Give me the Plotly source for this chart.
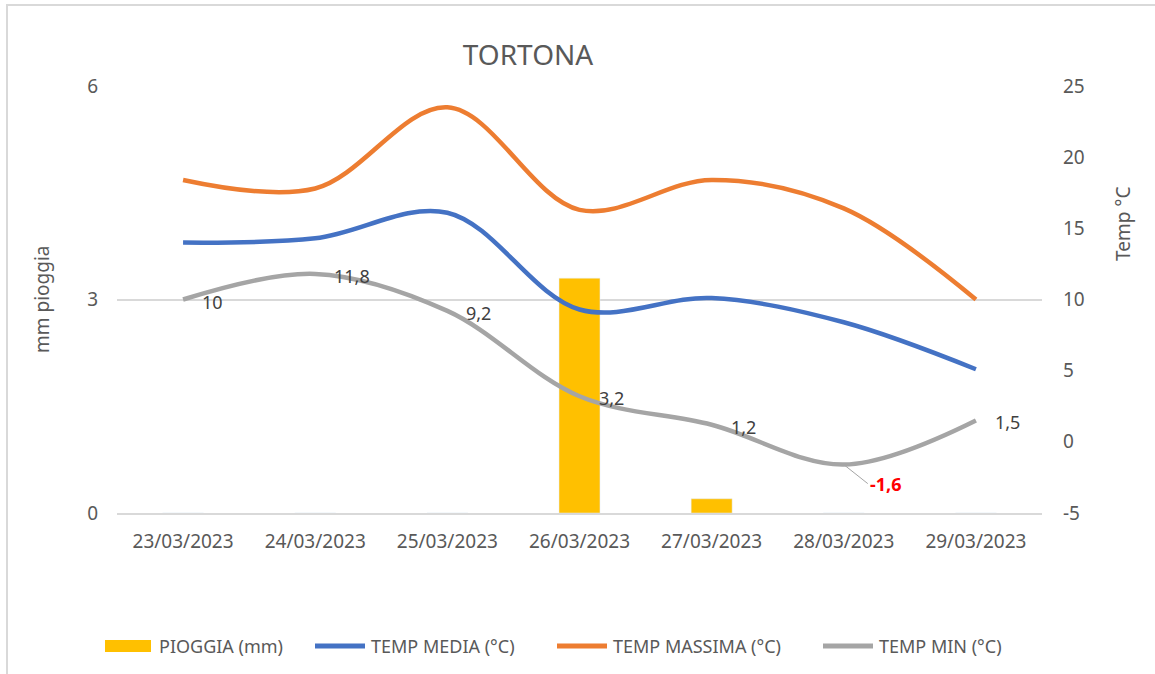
import plotly.graph_objects as go

dates = ["23/03/2023", "24/03/2023", "25/03/2023", "26/03/2023",
         "27/03/2023", "28/03/2023", "29/03/2023"]
pioggia = [0, 0, 0, 3.3, 0.2, 0, 0]
temp_media = [14.0, 14.3, 16.1, 9.3, 10.1, 8.4, 5.1]
temp_max = [18.4, 17.8, 23.5, 16.3, 18.4, 16.4, 10.0]
temp_min = [10, 11.8, 9.2, 3.2, 1.2, -1.6, 1.5]
min_labels = ["10", "11,8", "9,2", "3,2", "1,2", "-1,6", "1,5"]
y_left_ticks = [0, 3, 6]
y_right_ticks = [-5, 0, 5, 10, 15, 20, 25]
y_right_ticktext = ["-5", "0", "5", "10", "15", "20", "25"]

series_names = ["PIOGGIA (mm)", "TEMP MEDIA (°C)", "TEMP MASSIMA (°C)", "TEMP MIN (°C)"]
series_colors = ["#FFC000", "#4472C4", "#ED7D31", "#A5A5A5"]

FONT = "Noto Sans"
GREY_TXT = "#595959"

# pixel geometry helpers (plot area: x 117..1042, y 86..513)
L, R, T, B = 117, 1042, 86, 513
def px(x):
    return (x - L) / (R - L)
def py(y):
    return (B - y) / (B - T)

fig = go.Figure()
fig.add_trace(go.Bar(x=dates, y=pioggia, name=series_names[0],
                     marker=dict(color=series_colors[0]), width=0.31, yaxis="y",
                     showlegend=False))
for name, vals, col in [(series_names[1], temp_media, series_colors[1]),
                        (series_names[2], temp_max, series_colors[2]),
                        (series_names[3], temp_min, series_colors[3])]:
    fig.add_trace(go.Scatter(x=dates, y=vals, name=name, mode="lines",
                             line=dict(color=col, width=4.5, shape="spline", smoothing=1),
                             yaxis="y2", showlegend=False))

# data labels for TEMP MIN
for d, v, lab in zip(dates, temp_min, min_labels):
    if v < 0:
        fig.add_annotation(x=d, y=v, xref="x", yref="y2", text="<b>" + lab + "</b>",
                           showarrow=True, arrowhead=0, arrowwidth=1,
                           arrowcolor="#A5A5A5", ax=24, ay=19, xanchor="left",
                           font=dict(family=FONT, size=18, color="#FF0000"))
    else:
        fig.add_annotation(x=d, y=v, xref="x", yref="y2", text=lab, showarrow=False,
                           xanchor="left", yanchor="middle", xshift=17, yshift=-2,
                           font=dict(family=FONT, size=18, color="#404040"))

# axis titles
fig.add_annotation(text="mm pioggia", xref="paper", yref="paper",
                   x=px(42), y=py(300), xanchor="center", yanchor="middle",
                   showarrow=False, textangle=-90,
                   font=dict(family=FONT, size=19, color=GREY_TXT))
fig.add_annotation(text="Temp °C", xref="paper", yref="paper",
                   x=px(1123), y=py(224), xanchor="center", yanchor="middle",
                   showarrow=False, textangle=-90,
                   font=dict(family=FONT, size=19, color=GREY_TXT))

# chart frame (top and left edges visible)
fig.add_shape(type="line", xref="paper", yref="paper",
              x0=px(6), x1=px(1160), y0=py(5), y1=py(5),
              line=dict(color="#D9D9D9", width=2), layer="below")
fig.add_shape(type="line", xref="paper", yref="paper",
              x0=px(7), x1=px(7), y0=py(4), y1=py(680),
              line=dict(color="#D9D9D9", width=2), layer="below")

# custom legend
leg_x = [105, 315, 557, 823]
leg_y = 646
for i, (name, col, x0) in enumerate(zip(series_names, series_colors, leg_x)):
    if i == 0:
        fig.add_shape(type="rect", xref="paper", yref="paper",
                      x0=px(x0), x1=px(x0 + 46), y0=py(leg_y + 6), y1=py(leg_y - 6),
                      line=dict(width=0), fillcolor=col)
        tx = x0 + 52
    else:
        fig.add_shape(type="line", xref="paper", yref="paper",
                      x0=px(x0), x1=px(x0 + 50), y0=py(leg_y), y1=py(leg_y),
                      line=dict(color=col, width=5))
        tx = x0 + 54
    fig.add_annotation(text=name, xref="paper", yref="paper", x=px(tx), y=py(leg_y),
                       xanchor="left", yanchor="middle", showarrow=False,
                       font=dict(family=FONT, size=18, color=GREY_TXT))

fig.update_layout(
    width=1155, height=674,
    margin=dict(l=L, r=1155 - R, t=T, b=674 - B, autoexpand=False),
    paper_bgcolor="white", plot_bgcolor="white",
    title=dict(text="TORTONA", x=528 / 1155, xanchor="center", y=1 - 55 / 674,
               yanchor="middle", font=dict(family=FONT, size=28, color=GREY_TXT)),
    font=dict(family=FONT, size=18, color=GREY_TXT),
    hovermode=False,
    showlegend=False,
    xaxis=dict(type="category", showgrid=False, showline=True, linecolor="#D9D9D9",
               linewidth=2, ticks="", ticklabelstandoff=10,
               tickfont=dict(family=FONT, size=19, color=GREY_TXT)),
    yaxis=dict(range=[0, 6], tickvals=y_left_ticks, showgrid=True, gridcolor="#D9D9D9",
               gridwidth=2, zeroline=False, showline=False, ticklabelstandoff=18,
               tickfont=dict(family=FONT, size=19, color=GREY_TXT)),
    yaxis2=dict(range=[-5, 25], tickvals=y_right_ticks, ticktext=y_right_ticktext,
                overlaying="y", side="right", showgrid=False, zeroline=False,
                showline=False, ticklabelstandoff=20,
                tickfont=dict(family=FONT, size=19, color=GREY_TXT)),
)

fig.write_html("out.html", config={"displayModeBar": False},
               post_script="document.body.style.margin='0px';document.body.style.overflow='hidden';")
